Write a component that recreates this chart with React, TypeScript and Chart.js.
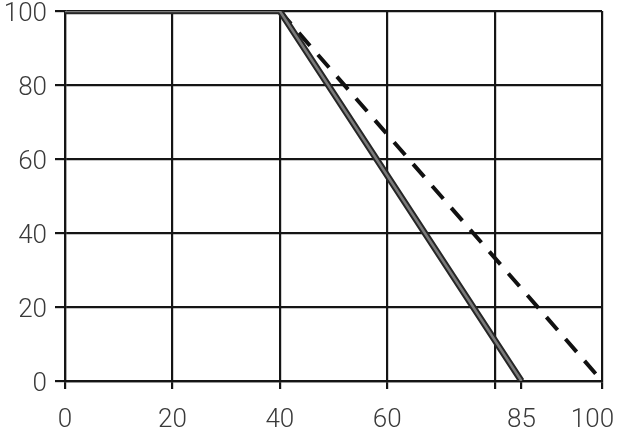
import { useEffect, useRef } from "react";
import Chart from "chart.js/auto";

const xTicks = [0, 20, 40, 60, 80, 85, 100];
const xLabelled = [0, 20, 40, 60, 85, 100];
const solidX = [0, 40, 85];
const solidY = [100, 100, 0];
const dashedX = [40, 100];
const dashedY = [100, 0];

const ink = "#151515";
const font = { family: "Roboto, 'Liberation Sans', sans-serif", size: 26, weight: 300 };

export default function App() {
  const ref = useRef<HTMLCanvasElement>(null);
  const chartRef = useRef<Chart | null>(null);
  useEffect(() => {
    if (!ref.current) return;
    chartRef.current?.destroy();
    const solid = solidX.map((x, i) => ({ x, y: solidY[i] }));
    const dashed = dashedX.map((x, i) => ({ x, y: dashedY[i] }));
    chartRef.current = new Chart(ref.current, {
      type: "line",
      data: {
        datasets: [
          { data: solid, borderColor: "#7a7a7a", borderWidth: 2.5, pointRadius: 0 },
          { data: solid, borderColor: "#262626", borderWidth: 6.5, pointRadius: 0 },
          {
            data: dashed,
            borderColor: "#111",
            borderWidth: 4,
            borderDash: [17, 12],
            pointRadius: 0,
          },
        ],
      },
      options: {
        animation: false,
        responsive: true,
        maintainAspectRatio: false,
        layout: { padding: { top: 11, right: 28, left: 0, bottom: 0 } },
        plugins: { legend: { display: false }, tooltip: { enabled: false } },
        scales: {
          x: {
            type: "linear",
            min: 0,
            max: 100,
            afterBuildTicks: (s: any) => {
              s.ticks = xTicks.map((v) => ({ value: v }));
            },
            afterFit: (s: any) => {
              s.height = 444 - 381;
              s.paddingLeft = 0;
              s.paddingRight = 0;
            },
            grid: {
              color: (c: any) => (c.tick?.value === 85 ? "rgba(0,0,0,0)" : ink),
              tickColor: ink,
              lineWidth: 2.2,
              tickLength: 8,
            },
            border: { color: ink, width: 2.2 },
            ticks: {
              autoSkip: false,
              maxRotation: 0,
              padding: 16,
              color: "#3a3a3a",
              font,
              // the last label sits a little left of its tick, as in the source
              callback: (v: any) =>
                !xLabelled.includes(v) ? "" : v === 100 ? "100   " : String(v),
            },
          },
          y: {
            min: 0,
            max: 100,
            afterFit: (s: any) => {
              s.width = 65;
              s.paddingTop = 0;
              s.paddingBottom = 0;
            },
            grid: { color: ink, lineWidth: 2.2, tickLength: 10 },
            border: { color: ink, width: 2.2 },
            ticks: { stepSize: 20, padding: 8, labelOffset: 3, color: "#3a3a3a", font },
          },
        },
      },
    });
    return () => chartRef.current?.destroy();
  }, []);
  return (
    <div style={{ position: "absolute", left: 0, top: 0, width: 630, height: 444, background: "#fff" }}>
      <canvas ref={ref} />
    </div>
  );
}
